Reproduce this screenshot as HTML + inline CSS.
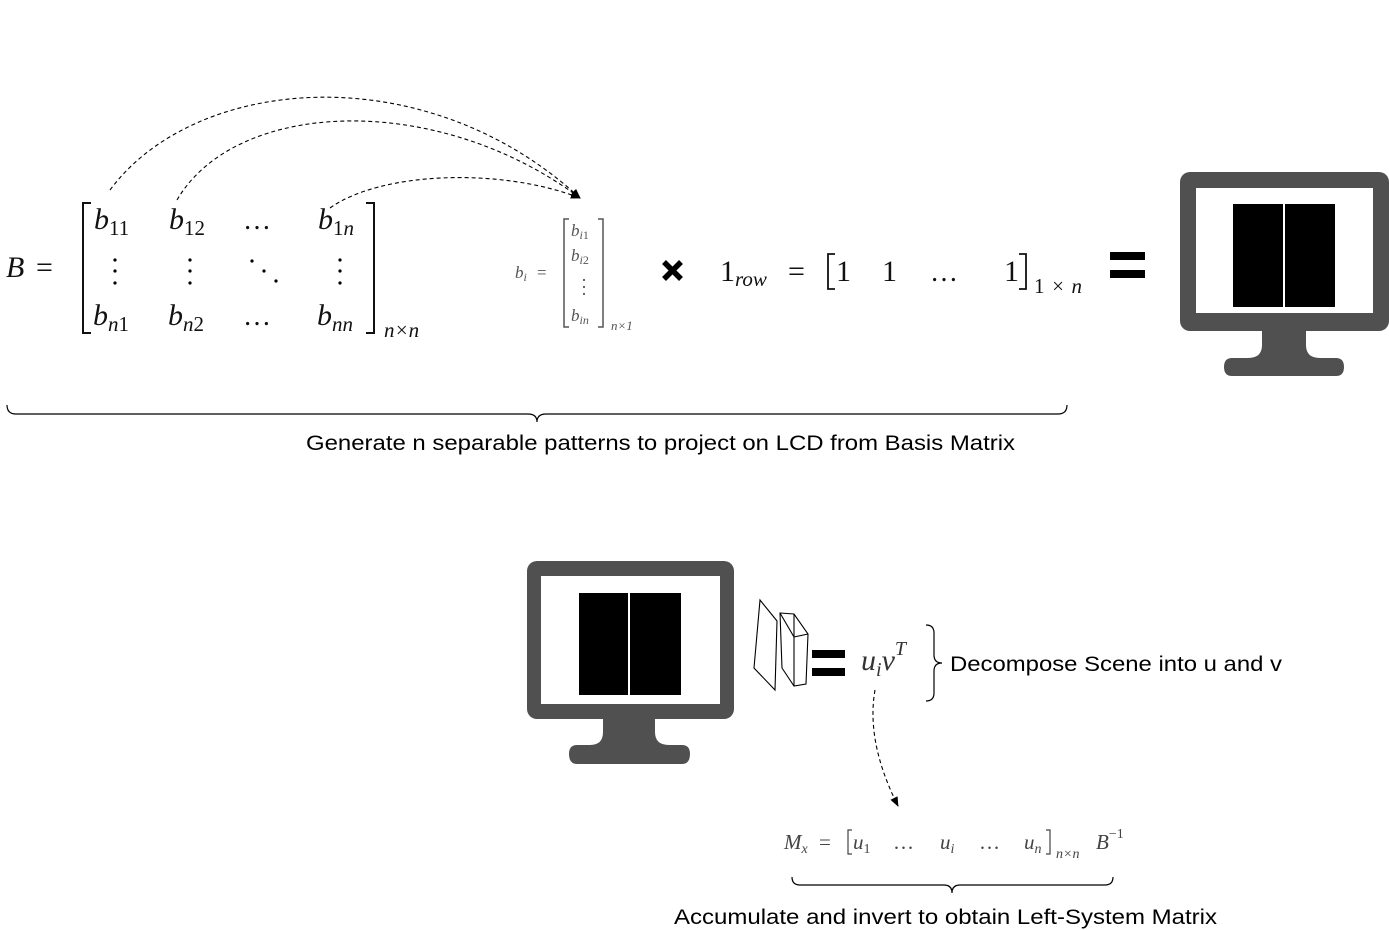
<!DOCTYPE html>
<html><head><meta charset="utf-8"><style>
html,body{margin:0;padding:0;background:#fff}
svg{display:block}
.m{font-family:"Liberation Serif",serif}
.s{font-family:"Liberation Sans",sans-serif;font-size:21px;fill:#000}
</style></head><body>
<svg width="1389" height="930" viewBox="0 0 1389 930" xmlns="http://www.w3.org/2000/svg">
<defs><marker id="ah" markerWidth="10" markerHeight="8" refX="9" refY="4" orient="auto" markerUnits="userSpaceOnUse"><path d="M0,0 L10,4 L0,8 z" fill="#000"/></marker></defs>

<g fill="none" stroke="#000" stroke-width="1.1" stroke-dasharray="4,3">
<path d="M110,190 C195,75 425,55 580,198" marker-end="url(#ah)"/>
<path d="M177,200 C235,100 435,90 580,198" marker-end="url(#ah)"/>
<path d="M330,208 C380,172 500,167 580,198" marker-end="url(#ah)"/>
<path d="M875,690 C868,730 880,770 898,806" marker-end="url(#ah)"/>
</g>

<g class="m" fill="#111">
<text x="6" y="277" font-size="30" font-style="italic">B</text>
<text x="36" y="277" font-size="30">=</text>
<g font-size="30" font-style="italic">
<text x="94" y="229">b<tspan font-size="21" font-style="normal" dy="6">11</tspan></text>
<text x="169" y="229">b<tspan font-size="21" font-style="normal" dy="6">12</tspan></text>
<text x="318" y="229">b<tspan font-size="21" font-style="normal" dy="6">1</tspan><tspan font-size="21" dy="0">n</tspan></text>
<text x="93" y="325">b<tspan font-size="21" dy="6">n</tspan><tspan font-size="21" font-style="normal">1</tspan></text>
<text x="168" y="325">b<tspan font-size="21" dy="6">n</tspan><tspan font-size="21" font-style="normal">2</tspan></text>
<text x="317" y="325">b<tspan font-size="21" dy="6">nn</tspan></text>
</g>
<text x="243" y="229" font-size="28">…</text>
<text x="243" y="325" font-size="28">…</text>
<g fill="#000"><circle cx="115" cy="260" r="1.6"/><circle cx="115" cy="271" r="1.6"/><circle cx="115" cy="283" r="1.6"/>
<circle cx="190" cy="260" r="1.6"/><circle cx="190" cy="271" r="1.6"/><circle cx="190" cy="283" r="1.6"/>
<circle cx="340" cy="260" r="1.6"/><circle cx="340" cy="271" r="1.6"/><circle cx="340" cy="283" r="1.6"/>
<circle cx="252" cy="261" r="1.6"/><circle cx="264" cy="271" r="1.6"/><circle cx="276" cy="281" r="1.6"/></g>
<text x="384" y="337" font-size="21" font-style="italic">n×n</text>
</g>
<path d="M91,203 H83 V333 H91 M366,203 H374 V333 H366" fill="none" stroke="#111" stroke-width="2"/>

<g class="m" fill="#555">
<text x="515" y="278" font-size="17" font-style="italic">b<tspan font-size="12" dy="3">i</tspan></text>
<text x="537" y="278" font-size="17">=</text>
<g font-size="17" font-style="italic">
<text x="571" y="236">b<tspan font-size="12" dy="3">i</tspan><tspan font-size="12" font-style="normal">1</tspan></text>
<text x="571" y="261">b<tspan font-size="12" dy="3">i</tspan><tspan font-size="12" font-style="normal">2</tspan></text>
<text x="571" y="321">b<tspan font-size="12" dy="3">in</tspan></text>
</g>
<circle cx="584" cy="280" r="1.1"/><circle cx="584" cy="287" r="1.1"/><circle cx="584" cy="294" r="1.1"/>
<text x="611" y="330" font-size="13" font-style="italic">n×1</text>
</g>
<path d="M569,219 H564 V327 H569 M598,219 H603 V327 H598" fill="none" stroke="#555" stroke-width="1.5"/>

<path d="M664,262 L681,279 M681,262 L664,279" stroke="#000" stroke-width="5.5"/>

<g class="m" fill="#111">
<text x="720" y="281" font-size="30">1<tspan font-size="21" font-style="italic" dy="5">row</tspan></text>
<text x="788" y="281" font-size="30">=</text>
<text x="836" y="281" font-size="30">1</text>
<text x="882" y="281" font-size="30">1</text>
<text x="930" y="281" font-size="28">…</text>
<text x="1004" y="281" font-size="30">1</text>
<text x="1034" y="293" font-size="21" textLength="48">1×<tspan font-style="italic">n</tspan></text>
</g>
<path d="M835,254 H828 V289 H835 M1019,254 H1026 V289 H1019" fill="none" stroke="#111" stroke-width="1.8"/>

<rect x="1110" y="252" width="35" height="8" fill="#000"/><rect x="1110" y="270" width="35" height="8" fill="#000"/>

<rect x="1180" y="172" width="209" height="159" rx="10" fill="#505050"/>
<rect x="1196" y="188" width="177" height="125" fill="#fff"/>
<rect x="1233" y="204" width="50" height="103" fill="#000"/>
<rect x="1285" y="204" width="50" height="103" fill="#000"/>
<path d="M1262,330 H1306 V345 Q1306,358 1320,358 H1336 Q1344,358 1344,367 Q1344,376 1336,376 H1232 Q1224,376 1224,367 Q1224,358 1232,358 H1248 Q1262,358 1262,345 Z" fill="#505050"/>

<path d="M7,405 Q7,414 16,414 H528 Q537,414 537,422 Q537,414 546,414 H1058 Q1067,414 1067,405" fill="none" stroke="#000" stroke-width="1.2"/>
<text class="s" x="306" y="450" textLength="709" lengthAdjust="spacingAndGlyphs">Generate n separable patterns to project on LCD from Basis Matrix</text>

<rect x="527" y="561" width="207" height="158" rx="10" fill="#505050"/>
<rect x="541" y="576" width="179" height="128" fill="#fff"/>
<rect x="579" y="593" width="49" height="102" fill="#000"/>
<rect x="630" y="593" width="51" height="102" fill="#000"/>
<path d="M603,718 H655 V732 Q655,745 669,745 H682 Q690,745 690,754 Q690,764 682,764 H577 Q569,764 569,754 Q569,745 577,745 H590 Q603,745 603,732 Z" fill="#505050"/>

<g fill="#fff" stroke="#000" stroke-width="1.1">
<polygon points="760,600 777,621 775,690 754,668"/>
<polygon points="780,613 794,614 808,634 806,684 794,686 782,668"/>
<polyline points="794,614 794,637 808,634" fill="none"/>
<line x1="794" y1="637" x2="794" y2="686"/>
<line x1="780" y1="613" x2="794" y2="637"/>
</g>
<rect x="812" y="650" width="33" height="8" fill="#000"/><rect x="812" y="668" width="33" height="8" fill="#000"/>
<g class="m" fill="#333" font-style="italic">
<text x="861" y="670" font-size="30">u<tspan font-size="20" dy="6">i</tspan><tspan dy="-6">v</tspan><tspan font-size="20" dy="-15">T</tspan></text>
</g>
<path d="M926,625 Q934,625 934,633 V655 Q934,663 942,663 Q934,663 934,671 V693 Q934,701 926,701" fill="none" stroke="#000" stroke-width="1.2"/>
<text class="s" x="950" y="671" textLength="332" lengthAdjust="spacingAndGlyphs">Decompose Scene into u and v</text>

<g class="m" fill="#444" font-size="21">
<text x="784" y="849" font-style="italic">M<tspan font-size="14" dy="4">x</tspan></text>
<text x="819" y="849">=</text>
<text x="853" y="849" font-style="italic">u<tspan font-size="14" font-style="normal" dy="4">1</tspan></text>
<text x="893" y="849">…</text>
<text x="940" y="849" font-style="italic">u<tspan font-size="14" dy="4">i</tspan></text>
<text x="979" y="849">…</text>
<text x="1024" y="849" font-style="italic">u<tspan font-size="14" dy="4">n</tspan></text>
<text x="1056" y="858" font-size="14" font-style="italic">n×n</text>
<text x="1096" y="849" font-style="italic">B<tspan font-size="14" font-style="normal" dy="-11">−1</tspan></text>
</g>
<path d="M852,830 H848 V854 H852 M1046,830 H1050 V854 H1046" fill="none" stroke="#444" stroke-width="1.2"/>
<path d="M792,877 Q792,885 800,885 H944 Q952,885 952,893 Q952,885 960,885 H1105 Q1113,885 1113,877" fill="none" stroke="#000" stroke-width="1.2"/>
<text class="s" x="674" y="924" textLength="543" lengthAdjust="spacingAndGlyphs">Accumulate and invert to obtain Left-System Matrix</text>
</svg>
</body></html>
